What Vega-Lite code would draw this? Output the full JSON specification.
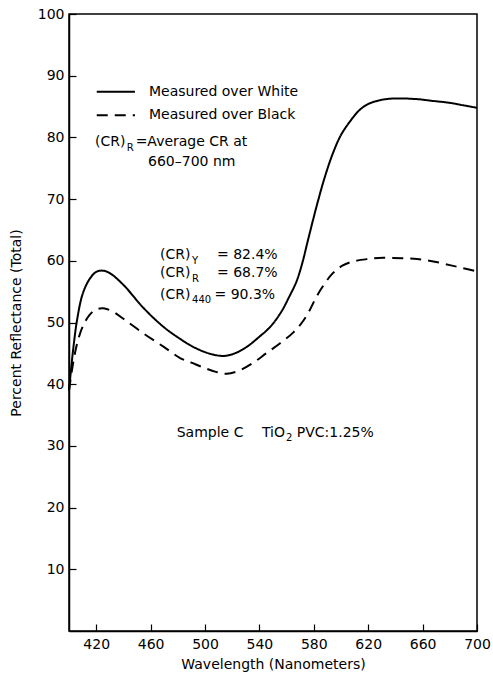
{
  "$schema": "https://vega.github.io/schema/vega-lite/v6.json",
  "width": 408,
  "height": 617,
  "autosize": "none",
  "padding": {"left": 69, "top": 14, "right": 16, "bottom": 42},
  "background": "white",
  "config": {
    "font": "DejaVu Sans",
    "view": {"stroke": "black", "strokeWidth": 1.5},
    "axis": {
      "grid": false,
      "domainColor": "black",
      "domainWidth": 1.5,
      "tickColor": "black",
      "tickWidth": 1.2,
      "labelFont": "DejaVu Sans",
      "labelFontSize": 14,
      "labelColor": "black",
      "titleFont": "DejaVu Sans",
      "titleFontSize": 14,
      "titleFontWeight": "normal",
      "titleColor": "black"
    }
  },
  "datasets": {
    "curves": [
      {"wavelength": 400, "reflectance": 39.0, "series": "White"},
      {"wavelength": 403, "reflectance": 45.5, "series": "White"},
      {"wavelength": 406, "reflectance": 50.5, "series": "White"},
      {"wavelength": 410, "reflectance": 54.6, "series": "White"},
      {"wavelength": 415, "reflectance": 57.0, "series": "White"},
      {"wavelength": 420, "reflectance": 58.2, "series": "White"},
      {"wavelength": 425, "reflectance": 58.4, "series": "White"},
      {"wavelength": 430, "reflectance": 58.0, "series": "White"},
      {"wavelength": 440, "reflectance": 56.1, "series": "White"},
      {"wavelength": 455, "reflectance": 52.3, "series": "White"},
      {"wavelength": 470, "reflectance": 49.2, "series": "White"},
      {"wavelength": 482, "reflectance": 47.3, "series": "White"},
      {"wavelength": 490, "reflectance": 46.2, "series": "White"},
      {"wavelength": 500, "reflectance": 45.2, "series": "White"},
      {"wavelength": 508, "reflectance": 44.7, "series": "White"},
      {"wavelength": 515, "reflectance": 44.6, "series": "White"},
      {"wavelength": 523, "reflectance": 45.1, "series": "White"},
      {"wavelength": 531, "reflectance": 46.1, "series": "White"},
      {"wavelength": 540, "reflectance": 47.7, "series": "White"},
      {"wavelength": 548, "reflectance": 49.3, "series": "White"},
      {"wavelength": 556, "reflectance": 51.7, "series": "White"},
      {"wavelength": 562, "reflectance": 54.2, "series": "White"},
      {"wavelength": 567, "reflectance": 56.5, "series": "White"},
      {"wavelength": 571, "reflectance": 59.2, "series": "White"},
      {"wavelength": 576, "reflectance": 63.6, "series": "White"},
      {"wavelength": 582, "reflectance": 68.8, "series": "White"},
      {"wavelength": 588, "reflectance": 73.5, "series": "White"},
      {"wavelength": 594, "reflectance": 77.4, "series": "White"},
      {"wavelength": 600, "reflectance": 80.4, "series": "White"},
      {"wavelength": 607, "reflectance": 82.7, "series": "White"},
      {"wavelength": 613, "reflectance": 84.3, "series": "White"},
      {"wavelength": 619, "reflectance": 85.3, "series": "White"},
      {"wavelength": 628, "reflectance": 86.0, "series": "White"},
      {"wavelength": 638, "reflectance": 86.3, "series": "White"},
      {"wavelength": 656, "reflectance": 86.2, "series": "White"},
      {"wavelength": 668, "reflectance": 85.9, "series": "White"},
      {"wavelength": 680, "reflectance": 85.6, "series": "White"},
      {"wavelength": 690, "reflectance": 85.2, "series": "White"},
      {"wavelength": 700, "reflectance": 84.8, "series": "White"},
      {"wavelength": 400, "reflectance": 39.0, "series": "Black"},
      {"wavelength": 403, "reflectance": 43.4, "series": "Black"},
      {"wavelength": 406, "reflectance": 46.6, "series": "Black"},
      {"wavelength": 410, "reflectance": 49.3, "series": "Black"},
      {"wavelength": 415, "reflectance": 51.2, "series": "Black"},
      {"wavelength": 420, "reflectance": 52.1, "series": "Black"},
      {"wavelength": 425, "reflectance": 52.3, "series": "Black"},
      {"wavelength": 432, "reflectance": 51.8, "series": "Black"},
      {"wavelength": 440, "reflectance": 50.6, "series": "Black"},
      {"wavelength": 455, "reflectance": 48.2, "series": "Black"},
      {"wavelength": 470, "reflectance": 46.0, "series": "Black"},
      {"wavelength": 482, "reflectance": 44.2, "series": "Black"},
      {"wavelength": 490, "reflectance": 43.5, "series": "Black"},
      {"wavelength": 500, "reflectance": 42.6, "series": "Black"},
      {"wavelength": 508, "reflectance": 42.0, "series": "Black"},
      {"wavelength": 516, "reflectance": 41.7, "series": "Black"},
      {"wavelength": 525, "reflectance": 42.2, "series": "Black"},
      {"wavelength": 535, "reflectance": 43.4, "series": "Black"},
      {"wavelength": 545, "reflectance": 45.0, "series": "Black"},
      {"wavelength": 555, "reflectance": 46.6, "series": "Black"},
      {"wavelength": 565, "reflectance": 48.4, "series": "Black"},
      {"wavelength": 572, "reflectance": 50.2, "series": "Black"},
      {"wavelength": 577, "reflectance": 52.0, "series": "Black"},
      {"wavelength": 582, "reflectance": 54.2, "series": "Black"},
      {"wavelength": 588, "reflectance": 56.3, "series": "Black"},
      {"wavelength": 594, "reflectance": 58.0, "series": "Black"},
      {"wavelength": 601, "reflectance": 59.2, "series": "Black"},
      {"wavelength": 609, "reflectance": 59.9, "series": "Black"},
      {"wavelength": 620, "reflectance": 60.3, "series": "Black"},
      {"wavelength": 631, "reflectance": 60.5, "series": "Black"},
      {"wavelength": 645, "reflectance": 60.4, "series": "Black"},
      {"wavelength": 656, "reflectance": 60.3, "series": "Black"},
      {"wavelength": 668, "reflectance": 59.9, "series": "Black"},
      {"wavelength": 680, "reflectance": 59.3, "series": "Black"},
      {"wavelength": 690, "reflectance": 58.8, "series": "Black"},
      {"wavelength": 700, "reflectance": 58.3, "series": "Black"}
    ],
    "legendlines": [
      {"wavelength": 420.4, "reflectance": 87.4, "series": "White"},
      {"wavelength": 448.5, "reflectance": 87.4, "series": "White"},
      {"wavelength": 420.4, "reflectance": 83.6, "series": "Black"},
      {"wavelength": 448.5, "reflectance": 83.6, "series": "Black"}
    ],
    "labels": [
      {"wavelength": 458.8, "reflectance": 87.3, "text": "Measured over White", "kind": "main"},
      {"wavelength": 458.8, "reflectance": 83.6, "text": "Measured over Black", "kind": "main"},
      {"wavelength": 419.1, "reflectance": 79.3, "text": "(CR)", "kind": "main"},
      {"wavelength": 442.4, "reflectance": 78.3, "text": "R", "kind": "sub"},
      {"wavelength": 449.0, "reflectance": 79.3, "text": "=Average CR at", "kind": "main"},
      {"wavelength": 458.1, "reflectance": 76.0, "text": "660–700 nm", "kind": "main"},
      {"wavelength": 466.9, "reflectance": 60.9, "text": "(CR)", "kind": "main"},
      {"wavelength": 490.5, "reflectance": 59.9, "text": "Y", "kind": "sub"},
      {"wavelength": 508.8, "reflectance": 60.9, "text": "= 82.4%", "kind": "main"},
      {"wavelength": 466.9, "reflectance": 58.0, "text": "(CR)", "kind": "main"},
      {"wavelength": 490.5, "reflectance": 57.0, "text": "R", "kind": "sub"},
      {"wavelength": 508.8, "reflectance": 58.0, "text": "= 68.7%", "kind": "main"},
      {"wavelength": 466.9, "reflectance": 54.5, "text": "(CR)", "kind": "main"},
      {"wavelength": 490.5, "reflectance": 53.6, "text": "440", "kind": "sub"},
      {"wavelength": 507.0, "reflectance": 54.5, "text": "= 90.3%", "kind": "main"},
      {"wavelength": 479.2, "reflectance": 32.1, "text": "Sample C", "kind": "main"},
      {"wavelength": 541.9, "reflectance": 32.1, "text": "TiO", "kind": "main"},
      {"wavelength": 559.5, "reflectance": 31.2, "text": "2", "kind": "sub"},
      {"wavelength": 567.5, "reflectance": 32.1, "text": "PVC:1.25%", "kind": "main"}
    ]
  },
  "encoding": {
    "x": {
      "field": "wavelength",
      "type": "quantitative",
      "scale": {"domain": [400, 700], "nice": false, "zero": false},
      "axis": {
        "title": "Wavelength (Nanometers)",
        "values": [420, 460, 500, 540, 580, 620, 660, 700],
        "tickSize": -7,
        "labelPadding": 13,
        "titlePadding": 6,
        "labelFlush": false
      }
    },
    "y": {
      "field": "reflectance",
      "type": "quantitative",
      "scale": {"domain": [0, 100], "nice": false},
      "axis": {
        "title": "Percent Reflectance (Total)",
        "values": [10, 20, 30, 40, 50, 60, 70, 80, 90, 100],
        "tickSize": -7,
        "labelPadding": 12,
        "titlePadding": 14
      }
    }
  },
  "layer": [
    {
      "data": {"name": "curves"},
      "mark": {"type": "line", "color": "black", "strokeWidth": 2, "interpolate": "catmull-rom"},
      "encoding": {
        "detail": {"field": "series"},
        "strokeDash": {
          "field": "series",
          "type": "nominal",
          "scale": {"domain": ["White", "Black"], "range": [[1, 0], [11, 7]]},
          "legend": null
        }
      }
    },
    {
      "data": {"name": "legendlines"},
      "mark": {"type": "line", "color": "black", "strokeWidth": 2},
      "encoding": {
        "detail": {"field": "series"},
        "strokeDash": {
          "field": "series",
          "type": "nominal",
          "scale": {"domain": ["White", "Black"], "range": [[1, 0], [6, 5]]},
          "legend": null
        }
      }
    },
    {
      "data": {"name": "labels"},
      "transform": [{"filter": "datum.kind === 'main'"}],
      "mark": {"type": "text", "align": "left", "baseline": "middle", "fontSize": 14, "color": "black", "font": "DejaVu Sans"},
      "encoding": {"text": {"field": "text"}}
    },
    {
      "data": {"name": "labels"},
      "transform": [{"filter": "datum.kind === 'sub'"}],
      "mark": {"type": "text", "align": "left", "baseline": "middle", "fontSize": 10, "color": "black", "font": "DejaVu Sans"},
      "encoding": {"text": {"field": "text"}}
    }
  ]
}
